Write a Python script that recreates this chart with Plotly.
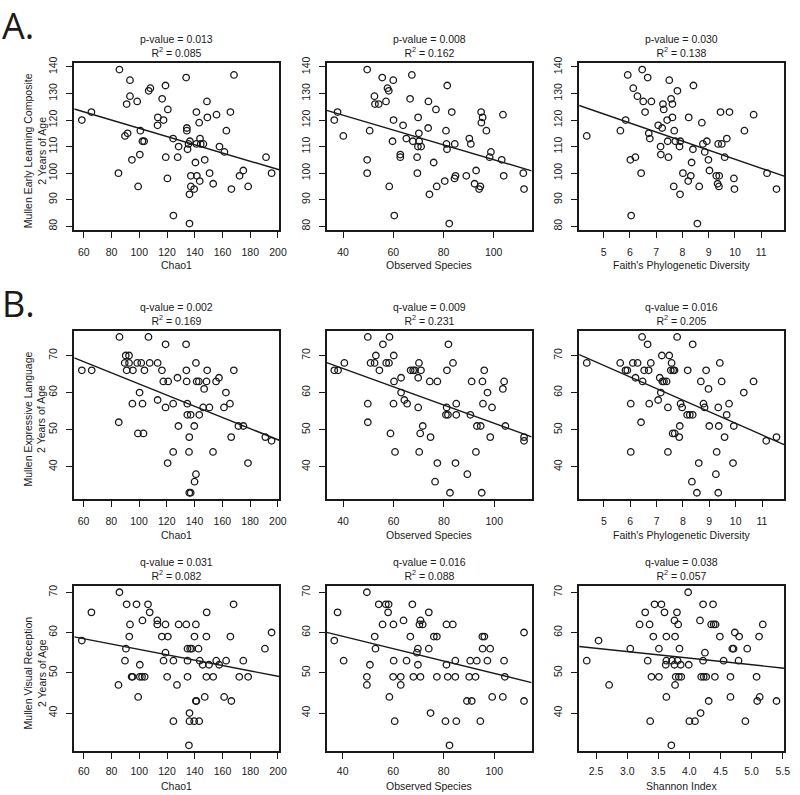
import plotly.graph_objects as go

W, H = 800, 795

# ---------------- data ----------------
# Row A: Mullen Early Learning Composite (ELC)
chao_elc = [(58.6,120),(65.5,123),(85.7,139),(85.0,100),(93.3,135),(90.9,126),(93.3,129),(89.7,114),
            (91.6,115),(94.7,105),(98.5,127),(99.2,95),(100.8,116),(100.4,107),(102.3,112),(103.5,112),
            (106.8,131),(108.0,132),(118.9,133),(116.5,128),(113.4,121),(113.2,118),(117.5,120),(120.6,124),
            (119.1,106),(120.3,98),(124.6,84),(124.4,113),(127.7,106),(128.4,110),(133.8,136),(134.3,117),
            (134.3,116),(134.8,109),(135.5,111),(136.5,112),(136.2,81),(137.2,99),(137.2,95),(136.2,92),
            (139.6,94),(140.5,104),(141.2,123),(141.2,111),(141.5,99),(143.2,119),(143.6,97),(143.8,113),
            (144.3,111),(146.2,111),(147.2,105),(148.8,127),(149.1,121),(150.7,100),(153.3,96),(155.7,122),
            (157.8,110),(161.4,108),(162.8,116),(165.7,123),(166.4,94),(168.3,137),(172.3,99),(175.0,101),
            (178.5,95),(191.4,106),(195.4,100)]
obs_elc = [(36.5,120),(37.8,123),(40.1,114),(49.6,139),(49.6,105),(49.6,100),(50.6,116),(52.5,129),
           (52.7,126),(54.2,126),(55.6,136),(57.1,127),(57.7,132),(58.2,131),(58.4,95),(60.0,135),
           (60.1,120),(59.7,112),(60.4,84),(62.8,107),(62.8,106),(63.9,118),(65.2,113),(66.7,128),
           (67.4,137),(67.8,112),(69.5,106),(69.6,100),(69.9,121),(69.8,110),(70.2,115),(70.3,112),
           (71.1,110),(73.9,117),(74.0,127),(74.4,92),(76.1,104),(77.0,124),(77.3,95),(80.5,97),
           (81.0,116),(81.2,111),(81.4,109),(81.5,133),(82.3,81),(83.3,123),(84.5,111),(84.4,98),
           (84.8,99),(89.1,99),(90.3,113),(90.9,111),(92.4,96),(93.0,101),(94.2,94),(94.7,95),
           (95.0,123),(95.1,119),(95.6,121),(97.1,116),(98.4,106),(98.9,108),(103.2,105),(103.7,122),
           (104.0,99),(111.8,100),(112.1,94)]
pd_elc = [(4.36,114),(5.64,116),(5.84,120),(5.92,137),(6.02,105),(6.05,84),(6.13,132),(6.21,106),
          (6.29,129),(6.43,100),(6.47,139),(6.51,127),(6.58,123),(6.68,136),(6.72,115),(6.76,113),
          (6.82,127),(7.08,118),(7.17,110),(7.18,107),(7.23,117),(7.26,126),(7.29,124),(7.42,120),
          (7.44,112),(7.47,106),(7.50,135),(7.57,128),(7.62,126),(7.62,121),(7.67,95),(7.69,116),
          (7.73,112),(7.81,131),(7.89,110),(7.92,112),(7.91,92),(8.02,100),(8.22,97),(8.24,121),
          (8.32,99),(8.35,104),(8.40,109),(8.42,133),(8.57,81),(8.64,95),(8.74,119),(8.78,111),
          (8.85,108),(8.93,112),(8.99,105),(9.03,101),(9.29,99),(9.36,111),(9.34,96),(9.40,99),
          (9.39,95),(9.45,123),(9.50,111),(9.61,106),(9.69,113),(9.79,123),(9.96,98),(9.98,94),
          (10.36,116),(10.71,122),(11.22,100),(11.58,94)]

# Row B: Mullen Expressive Language (EL)
chao_el = [(58.8,66),(65.9,66),(85.9,75),(85.4,52),(90.4,70),(92.8,70),(89.7,68),(92.8,68),
           (91.1,66),(95.6,66),(95.2,57),(98.7,68),(101.6,68),(100.4,60),(99.2,49),(103.2,49),
           (102.5,57),(103.9,66),(106.8,75),(107.7,68),(113.4,68),(113.4,58),(116.5,66),(117.5,63),
           (121.0,63),(119.1,73),(119.1,56),(120.6,41),(124.6,57),(124.6,44),(127.7,64),(128.4,51),
           (133.9,73),(134.1,66),(134.3,63),(134.8,57),(134.8,54),(137.2,54),(136.2,48),(136.0,44),
           (136.2,33),(137.2,33),(139.8,51),(140.0,36),(141.0,38),(141.0,68),(141.5,63),(143.1,63),
           (143.4,54),(146.9,61),(146.2,56),(149.1,66),(148.6,63),(150.7,56),(153.3,44),(155.5,63),
           (157.6,64),(161.2,56),(162.6,60),(165.5,57),(166.4,48),(168.3,66),(171.6,51),(175.2,51),
           (178.5,41),(191.0,48),(195.5,47)]
obs_el = [(36.5,66),(38.0,66),(40.5,68),(49.8,75),(49.8,57),(49.8,52),(50.9,68),(52.5,68),
          (53.0,70),(54.4,66),(55.8,73),(57.1,68),(58.2,68),(58.4,75),(58.8,49),(60.1,70),
          (60.2,63),(60.0,57),(60.6,44),(63.0,64),(63.0,60),(64.3,58),(65.4,57),(66.8,66),
          (67.8,66),(68.5,66),(69.8,64),(70.1,68),(70.9,66),(69.8,56),(70.6,49),(71.6,51),
          (70.2,44),(74.4,63),(74.7,48),(77.4,63),(77.4,41),(76.5,36),(81.1,56),(80.8,54),
          (81.6,54),(81.2,66),(81.8,73),(82.4,33),(83.6,68),(84.9,57),(84.9,54),(84.6,41),
          (89.3,38),(90.5,54),(91.0,63),(92.7,44),(93.1,51),(94.6,51),(95.0,33),(95.5,57),
          (95.3,63),(96.0,66),(97.3,60),(98.4,48),(99.1,56),(103.4,61),(103.9,63),(104.4,51),
          (111.8,48),(111.8,47)]
pd_el = [(4.35,68),(5.62,68),(5.82,66),(5.89,66),(6.02,57),(6.02,44),(6.10,68),(6.28,68),
         (6.20,64),(6.41,52),(6.45,75),(6.47,63),(6.53,66),(6.66,73),(6.70,66),(6.72,57),
         (6.78,68),(7.06,58),(7.12,64),(7.16,60),(7.20,70),(7.22,63),(7.28,63),(7.38,63),
         (7.43,56),(7.43,44),(7.48,70),(7.57,68),(7.54,66),(7.63,66),(7.68,66),(7.61,49),
         (7.69,49),(7.78,75),(7.88,51),(7.86,48),(7.91,57),(7.97,56),(8.18,66),(8.16,54),
         (8.26,54),(8.37,54),(8.37,73),(8.34,36),(8.53,33),(8.60,41),(8.68,63),(8.78,57),
         (8.82,56),(8.88,66),(8.97,61),(9.00,51),(9.28,44),(9.25,38),(9.34,56),(9.36,51),
         (9.34,33),(9.40,68),(9.47,63),(9.58,48),(9.66,54),(9.75,57),(9.93,51),(9.90,41),
         (10.31,60),(10.68,63),(11.16,47),(11.55,48)]

# Row C: Mullen Visual Reception (VR)
chao_vr = [(58.6,58),(65.5,65),(85.7,70),(85.0,47),(90.9,67),(89.7,53),(90.4,56),(93.3,62),
           (92.8,59),(94.5,49),(95.2,49),(98.0,67),(99.2,44),(100.4,52),(100.4,49),(102.3,63),
           (102.0,49),(103.9,49),(106.3,67),(107.5,65),(113.0,63),(113.0,62),(116.3,59),(120.6,59),
           (118.9,62),(117.5,53),(118.9,55),(120.1,49),(124.6,38),(124.6,53),(127.2,47),(128.4,62),
           (133.9,62),(134.8,56),(136.7,56),(137.9,56),(134.8,53),(134.8,49),(136.2,40),(136.2,38),
           (139.6,38),(143.2,38),(135.8,32),(139.8,59),(140.8,62),(140.8,43),(141.2,43),(142.7,56),
           (143.6,53),(145.7,52),(148.6,65),(148.4,59),(147.2,44),(148.4,49),(150.3,52),(153.3,49),
           (155.5,53),(157.6,52),(161.2,44),(162.6,53),(165.7,59),(166.4,43),(168.0,67),(172.1,49),
           (175.0,53),(178.5,49),(190.6,56),(195.4,60)]
obs_vr = [(36.7,58),(38.0,65),(40.4,53),(49.6,70),(49.6,49),(49.6,47),(50.8,52),(52.7,59),
          (53.0,56),(54.3,67),(55.8,62),(57.1,67),(58.2,67),(58.0,65),(58.5,44),(60.1,62),
          (60.2,53),(60.0,49),(60.6,38),(63.0,49),(63.0,47),(64.1,63),(65.3,53),(66.8,59),
          (67.6,67),(68.0,49),(69.4,55),(69.8,56),(69.8,52),(70.4,62),(70.8,63),(71.7,62),
          (70.8,49),(74.1,65),(74.1,56),(74.8,40),(76.1,59),(77.3,59),(77.3,49),(81.1,52),
          (81.1,62),(80.7,38),(81.6,49),(82.3,32),(83.6,62),(84.6,53),(84.6,49),(85.0,38),
          (89.2,43),(90.5,53),(90.1,49),(91.1,43),(92.6,49),(93.1,53),(94.5,38),(95.3,59),
          (95.4,56),(96.1,59),(97.3,53),(98.4,56),(99.2,44),(103.4,44),(103.9,53),(104.2,49),
          (111.8,60),(111.8,43)]
shannon_vr = [(2.35,53),(2.54,58),(2.71,47),(3.05,56),(3.20,62),(3.29,65),(3.36,62),(3.33,53),
              (3.39,49),(3.37,38),(3.42,59),(3.44,67),(3.51,56),(3.51,49),(3.55,67),(3.60,65),
              (3.63,59),(3.62,52),(3.63,53),(3.63,44),(3.71,32),(3.72,53),(3.76,63),(3.77,59),
              (3.76,52),(3.78,49),(3.77,47),(3.80,65),(3.82,62),(3.81,53),(3.83,49),(3.84,56),
              (3.86,52),(3.87,49),(3.98,70),(3.99,52),(4.00,38),(4.09,38),(4.17,63),(4.18,40),
              (4.19,49),(4.22,67),(4.22,53),(4.23,49),(4.25,55),(4.27,49),(4.31,43),(4.35,62),
              (4.38,67),(4.39,62),(4.42,62),(4.41,49),(4.49,59),(4.55,53),(4.66,49),(4.66,44),
              (4.69,56),(4.71,56),(4.73,60),(4.79,53),(4.80,59),(4.90,38),(4.93,56),(5.08,49),
              (5.09,43),(5.12,59),(5.13,44),(5.18,62),(5.40,43)]

# fitted regression lines (intercept, slope)
line_coefs = [(132.4,-0.155),(133.0,-0.279),(139.4,-3.415),
              (77.4,-0.1505),(76.3,-0.246),(82.9,-3.12),
              (62.47,-0.0666),(65.2,-0.1536),(60.2,-1.64)]

stat_names = ["p-value","p-value","p-value","q-value","q-value","q-value","q-value","q-value","q-value"]
stat_values = ["0.013","0.008","0.030","0.002","0.009","0.016","0.031","0.016","0.038"]
r2_values = ["0.085","0.162","0.138","0.169","0.231","0.205","0.082","0.088","0.057"]

x_titles = ["Chao1","Observed Species","Faith's Phylogenetic Diversity",
            "Chao1","Observed Species","Faith's Phylogenetic Diversity",
            "Chao1","Observed Species","Shannon Index"]
y_titles = ["Mullen Early Learning Composite<br>2 Years of Age",
            "Mullen Expressive Language<br>2 Years of Age",
            "Mullen Visual Reception<br>2 Years of Age"]
section_labels = ["A.","B."]

chao_ticks = [60,80,100,120,140,160,180,200]
obs_ticks = [40,60,80,100]
pd_ticks = [5,6,7,8,9,10,11]
shannon_ticks = [2.5,3.0,3.5,4.0,4.5,5.0,5.5]
elc_ticks = [80,90,100,110,120,130,140]
el_ticks = [40,50,60,70]
vr_ticks = [40,50,60,70]

panel_points = [chao_elc, obs_elc, pd_elc, chao_el, obs_el, pd_el, chao_vr, obs_vr, shannon_vr]
panel_xticks = [chao_ticks, obs_ticks, pd_ticks, chao_ticks, obs_ticks, pd_ticks, chao_ticks, obs_ticks, shannon_ticks]
row_yticks = [elc_ticks, el_ticks, vr_ticks]

# ---------------- layout geometry (pixels) ----------------
col_px = [(75, 282), (330, 537), (585, 792)]
row_px = [(57, 225), (327, 497), (585, 752)]
xtitle_px = [261, 533, 787]
xtick_standoff = [6, 6, 3]

FONT = "Liberation Sans, Arial, sans-serif"
INK = "#1a1a1a"


def r_range(v):
    lo, hi = min(v), max(v)
    pad = 0.04 * (hi - lo)
    return [lo - pad, hi + pad]


def px_x(px):
    return px / W


def px_y(py):
    return 1 - py / H


fig = go.Figure()
layout = {}
annotations = []

for i, pts in enumerate(panel_points):
    r, c = divmod(i, 3)
    n = i + 1
    xa = "x" if n == 1 else f"x{n}"
    ya = "y" if n == 1 else f"y{n}"
    xs = [p[0] for p in pts]
    ys = [p[1] for p in pts]
    xr = r_range(xs)
    yr = r_range(ys)
    fig.add_trace(go.Scatter(
        x=xs, y=ys, mode="markers", xaxis=xa, yaxis=ya, showlegend=False,
        marker=dict(symbol="circle-open", size=6.5, color=INK, line=dict(width=1.3, color=INK)),
        hoverinfo="x+y"))
    a, b = line_coefs[i]
    fig.add_trace(go.Scatter(
        x=xr, y=[a + b * xr[0], a + b * xr[1]], mode="lines", xaxis=xa, yaxis=ya,
        showlegend=False, line=dict(color=INK, width=1.4), hoverinfo="skip"))

    x0, x1 = col_px[c]
    y0, y1 = row_px[r]
    xt = panel_xticks[i]
    layout["xaxis" if n == 1 else f"xaxis{n}"] = dict(
        domain=[px_x(x0), px_x(x1)], range=xr, anchor=ya,
        tickvals=xt, ticktext=[("%.1f" % t) if isinstance(t, float) else str(t) for t in xt],
        ticks="outside", ticklen=6, tickwidth=1, tickcolor=INK,
        showline=True, mirror=True, linecolor=INK, linewidth=1.6,
        showgrid=False, zeroline=False, ticklabelstandoff=xtick_standoff[r],
        tickfont=dict(family=FONT, size=10.5, color=INK))
    layout["yaxis" if n == 1 else f"yaxis{n}"] = dict(
        domain=[px_y(y1), px_y(y0)], range=yr, anchor=xa,
        tickvals=row_yticks[r], tickangle=-90,
        ticks="outside", ticklen=6, tickwidth=1, tickcolor=INK,
        showline=True, mirror=True, linecolor=INK, linewidth=1.6,
        showgrid=False, zeroline=False, ticklabelstandoff=5,
        tickfont=dict(family=FONT, size=10.5, color=INK))

    xc = (x0 + x1) / 2
    annotations.append(dict(
        x=px_x(xc), y=px_y(y0 - 2), xref="paper", yref="paper",
        xanchor="center", yanchor="bottom", showarrow=False,
        text=f"{stat_names[i]} = {stat_values[i]}<br>R<sup>2</sup> = {r2_values[i]}",
        font=dict(family=FONT, size=10.5, color=INK)))
    annotations.append(dict(
        x=px_x(xc), y=px_y(xtitle_px[r]), xref="paper", yref="paper",
        xanchor="center", yanchor="middle", showarrow=False, borderpad=0,
        text=x_titles[i], font=dict(family=FONT, size=10.5, color=INK)))

for r in range(3):
    y0, y1 = row_px[r]
    annotations.append(dict(
        x=px_x(35), y=px_y((y0 + y1) / 2 + 4), xref="paper", yref="paper",
        xanchor="center", yanchor="middle", showarrow=False, textangle=-90,
        text=y_titles[r], font=dict(family=FONT, size=10.5, color=INK)))

annotations.append(dict(x=px_x(0), y=px_y(-8), xref="paper", yref="paper",
                        xanchor="left", yanchor="top", showarrow=False,
                        text=section_labels[0], font=dict(family="Open Sans", size=36, color=INK)))
annotations.append(dict(x=px_x(0), y=px_y(273), xref="paper", yref="paper",
                        xanchor="left", yanchor="top", showarrow=False,
                        text=section_labels[1], font=dict(family="Open Sans", size=36, color=INK)))

fig.update_layout(
    width=W, height=H, margin=dict(l=0, r=0, t=0, b=0),
    paper_bgcolor="white", plot_bgcolor="white",
    annotations=annotations, showlegend=False, **layout)

fig.write_html("out.html", config={"displayModeBar": False},
               post_script="document.body.style.margin='0';document.body.style.overflow='hidden';")
